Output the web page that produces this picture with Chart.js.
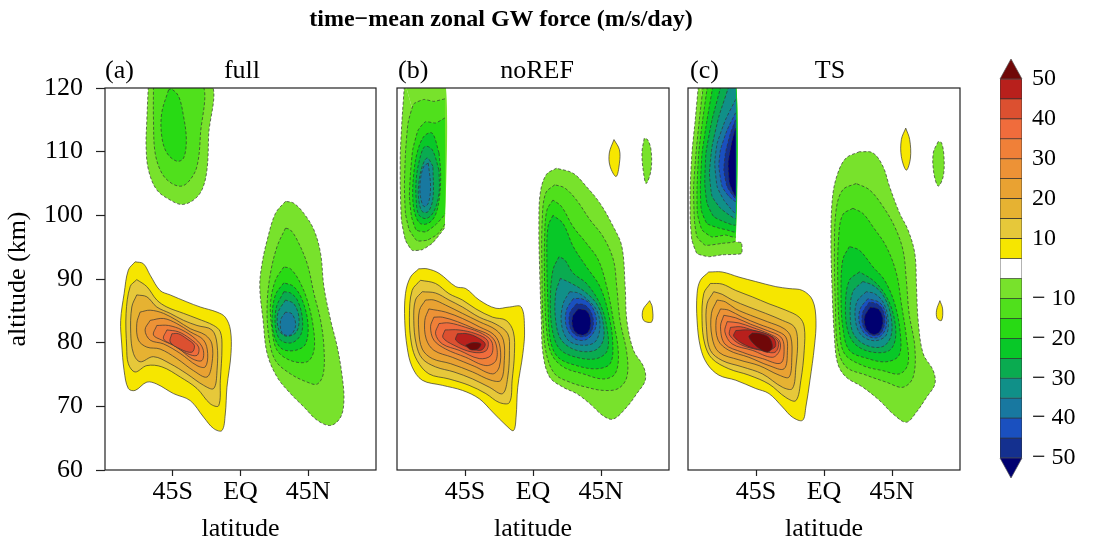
<!DOCTYPE html>
<html>
<head>
<meta charset="utf-8">
<script src="https://cdn.jsdelivr.net/npm/chart.js@4.4.1/dist/chart.umd.min.js"></script>
<style>
  body { margin: 0; background: #fff; }
  #fig { position: relative; width: 1097px; height: 548px; overflow: hidden; font-family: "Liberation Serif", "Times New Roman", serif; }
  #fig canvas { position: absolute; }
  .t { position: absolute; line-height: 1; white-space: nowrap; color: #000; font-size: 26px; }
</style>
</head>
<body>
<div id="fig">
  <canvas id="pa" width="390" height="548" style="left:0;top:0"></canvas>
  <canvas id="pb" width="290" height="548" style="left:390px;top:0"></canvas>
  <canvas id="pc" width="290" height="548" style="left:680px;top:0"></canvas>
  <canvas id="cb" width="107" height="460" style="left:990px;top:40px"></canvas>

  <div class="t" style="left:0;top:6px;width:1002px;text-align:center;font-size:24px;font-weight:bold">time−mean zonal GW force (m/s/day)</div>
  <div class="t" id="tagA" style="left:105px;top:57px"></div>
  <div class="t" id="nameA" style="left:142px;top:57px;width:200px;text-align:center"></div>
  <div class="t" id="tagB" style="left:398px;top:57px"></div>
  <div class="t" id="nameB" style="left:437px;top:57px;width:200px;text-align:center"></div>
  <div class="t" id="tagC" style="left:690px;top:57px"></div>
  <div class="t" id="nameC" style="left:730px;top:57px;width:200px;text-align:center"></div>
</div>

<script>
// axes
const latTicks = [-45, 0, 45];
const latLabels = ['45S', 'EQ', '45N'];
const altTicks = [60, 70, 80, 90, 100, 110, 120];
const panelTags = ['(a)', '(b)', '(c)'];
const panelNames = ['full', 'noREF', 'TS'];
// latitude where the data of the upper-left blob stops (b, c)
const dataEdge = [null, -58.3, -58.5];

// colour scale (box colours bottom -> top, -50..50, white box is -5..5)
const bandColors = ['#14308f', '#1a50bf', '#1878a0', '#109088', '#0aab50', '#08c828', '#28da14', '#50e01c', '#78e22c',
  '#ffffff',
  '#f6e600', '#e6c83a', '#e6b232', '#e9a232', '#ed9236', '#f08038', '#f06c3c', '#dc5030', '#b8201c'];
const lowColor = '#000070';
const highColor = '#700808';
const cbTickPos = [0, 2, 4, 6, 8, 11, 13, 15, 17, 19];
const cbTickLabels = ['− 50', '− 40', '− 30', '− 20', '− 10', '10', '20', '30', '40', '50'];

// contours [level, [[lat, alt], ...]]
const fullContours = [
  [-5, [[-61.1,121],[-62.2,115.0],[-62.7,110.8],[-61.1,107.1],[-55.6,104.0],[-46.7,102.4],[-38.9,101.7],[-31.2,102.4],[-25.6,104.0],[-22.3,107.1],[-21.2,112.4],[-20.5,121]]],
  [-10, [[-57.8,121],[-57.8,115.0],[-56.7,109.8],[-52.2,106.6],[-45.6,105.0],[-38.9,104.6],[-33.4,105.6],[-28.9,107.7],[-26.7,112.4],[-26.3,121]]],
  [-15, [[-47.8,119.7],[-52.3,116.1],[-52.3,112.4],[-48.9,109.8],[-42.3,108.5],[-37.8,109.0],[-36.0,111.9],[-37.8,115.5],[-41.1,118.7],[-45.6,119.8]]],

  [5, [[-70.0,92.7],[-74.5,91.4],[-77.3,87.7],[-79.6,83.5],[-78.9,79.8],[-77.3,75.6],[-74.5,72.8],[-70.0,72.5],[-62.2,73.8],[-55.6,73.5],[-44.5,72.0],[-33.4,70.9],[-24.5,68.3],[-17.8,66.5],[-12.3,66.2],[-10.1,68.8],[-9.0,73.0],[-6.3,78.3],[-6.7,82.0],[-10.1,84.0],[-15.6,84.8],[-26.7,85.6],[-35.6,86.4],[-46.7,87.5],[-53.4,88.2],[-60.0,90.6],[-64.5,92.4]]],
  [10, [[-68.9,89.9],[-73.3,88.8],[-76.0,84.6],[-75.6,79.3],[-74.5,76.7],[-70.0,75.4],[-62.2,76.4],[-52.2,76.2],[-40.0,74.6],[-28.9,72.8],[-20.1,70.4],[-14.5,70.1],[-13.4,74.1],[-12.3,79.3],[-13.4,81.7],[-17.8,82.7],[-28.9,83.8],[-37.8,84.6],[-48.9,85.6],[-55.6,86.7],[-62.2,88.8]]],
  [15, [[-68.9,87.5],[-72.2,85.6],[-72.9,81.4],[-71.1,78.3],[-66.7,77.0],[-57.8,77.8],[-46.7,76.7],[-35.6,75.1],[-24.5,73.3],[-17.8,72.8],[-15.6,75.6],[-15.6,79.8],[-19.0,82.0],[-28.9,82.7],[-37.8,83.5],[-46.7,84.6],[-55.6,85.6],[-62.2,87.2]]],
  [20, [[-66.7,84.8],[-68.9,83.0],[-67.8,80.4],[-62.2,79.3],[-53.4,79.0],[-42.3,77.5],[-31.2,75.6],[-22.3,74.6],[-19.0,76.7],[-19.0,79.8],[-23.4,81.2],[-33.4,82.2],[-42.3,83.5],[-51.1,84.6],[-60.0,85.1]]],
  [25, [[-60.0,83.5],[-63.4,82.0],[-60.0,80.4],[-51.1,79.8],[-40.0,78.3],[-28.9,76.4],[-23.4,76.2],[-21.8,78.3],[-24.5,80.4],[-33.4,81.7],[-42.3,83.0],[-51.1,83.8]]],
  [30, [[-55.6,82.7],[-57.8,81.2],[-52.2,80.4],[-42.3,79.3],[-32.3,77.5],[-25.6,77.2],[-24.9,79.0],[-30.0,80.6],[-38.9,82.0],[-47.8,82.7]]],
  [35, [[-48.9,82.0],[-51.1,80.6],[-44.5,79.6],[-35.6,78.3],[-28.9,78.0],[-27.8,79.3],[-33.4,80.6],[-41.2,81.7]]],
  [40, [[-45.6,81.4],[-46.7,80.1],[-40.0,79.0],[-32.3,78.5],[-30.7,79.6],[-35.6,80.6],[-41.2,81.4]]],

  [-5, [[29.9,102.2],[23.2,100.3],[17.7,96.1],[14.3,92.4],[12.8,88.8],[15.0,83.5],[17.7,78.3],[24.3,74.6],[33.2,72.0],[42.1,69.9],[51.0,67.8],[59.9,67.0],[66.5,68.3],[68.7,70.9],[67.6,74.6],[64.3,79.3],[59.9,83.5],[55.4,88.8],[53.2,94.0],[48.8,97.7],[42.1,100.3],[35.4,101.9]]],
  [-10, [[29.9,98.0],[24.3,95.1],[19.9,90.9],[17.7,86.1],[18.8,80.9],[23.2,77.2],[33.2,75.1],[44.3,73.8],[51.0,73.5],[55.0,75.1],[55.4,79.3],[53.2,83.5],[48.8,87.7],[44.3,92.4],[37.7,96.1],[33.2,97.7]]],
  [-15, [[28.8,91.9],[23.2,89.8],[19.9,86.1],[21.0,82.0],[24.3,78.8],[33.2,77.2],[44.3,77.0],[48.8,78.8],[48.3,82.5],[44.3,86.7],[38.8,89.8],[33.2,91.6]]],
  [-20, [[28.8,89.4],[23.2,87.5],[21.0,84.0],[22.6,80.9],[27.7,79.0],[36.6,78.8],[43.2,79.8],[44.8,83.0],[41.0,86.7],[35.4,88.8]]],
  [-25, [[28.8,88.0],[23.9,85.6],[23.2,82.5],[26.6,80.4],[34.3,80.0],[40.3,81.4],[41.0,84.0],[37.7,86.7],[33.2,87.8]]],
  [-30, [[29.9,86.7],[24.8,84.6],[25.5,82.0],[30.6,81.0],[37.2,81.7],[38.8,84.0],[35.4,86.1]]],
  [-35, [[29.9,84.8],[26.6,83.5],[27.7,81.5],[33.2,81.2],[36.6,82.7],[34.3,84.5]]]
];

const noRefContours = [
  [-5, [[-84.9,121],[-86.7,115.0],[-87.8,109.8],[-87.8,104.5],[-87.1,99.3],[-84.4,96.1],[-80.0,94.5],[-73.3,94.6],[-66.7,95.6],[-61.1,97.2],[-58.3,98.2],[-58.3,121]]],
  [-10, [[-58.3,118.3],[-65.6,117.9],[-72.2,118.2],[-78.9,117.5],[-82.7,114.5],[-84.4,109.8],[-85.1,104.5],[-84.4,100.3],[-81.8,97.7],[-76.7,96.0],[-70.0,96.1],[-63.4,97.0],[-58.3,98.7]]],
  [-15, [[-58.3,115.3],[-64.5,114.5],[-71.1,114.7],[-76.0,113.4],[-79.6,110.3],[-81.1,106.6],[-81.8,103.0],[-80.4,99.8],[-77.3,97.7],[-71.1,97.4],[-64.5,98.5],[-58.3,100.3]]],
  [-20, [[-62.2,109.8],[-66.7,112.9],[-72.2,112.4],[-76.7,109.8],[-78.9,106.6],[-79.6,103.0],[-78.2,100.3],[-74.5,98.7],[-68.9,98.8],[-64.5,100.1],[-61.8,103.0],[-61.1,106.6]]],
  [-25, [[-62.2,107.1],[-66.7,110.3],[-71.6,110.8],[-75.1,108.7],[-77.3,105.6],[-77.3,102.4],[-75.6,100.1],[-70.7,99.5],[-65.6,100.6],[-62.2,103.5]]],
  [-30, [[-66.2,107.7],[-70.0,109.0],[-73.3,107.7],[-75.6,105.0],[-75.6,102.4],[-73.3,100.6],[-69.3,100.6],[-66.2,102.7]]],
  [-35, [[-69.3,108.2],[-72.2,107.7],[-74.5,105.6],[-74.5,103.0],[-72.2,101.4],[-69.3,101.9],[-67.8,104.5]]],

  [5, [[-75.6,91.6],[-81.1,90.3],[-84.4,87.7],[-84.9,83.5],[-83.3,79.3],[-80.0,76.2],[-73.3,74.1],[-60.0,73.3],[-46.7,72.5],[-35.6,71.2],[-26.7,69.1],[-17.8,67.0],[-12.9,66.2],[-11.2,68.3],[-10.1,73.0],[-6.7,78.3],[-5.6,82.0],[-7.8,85.6],[-15.6,85.6],[-24.5,85.4],[-35.6,86.7],[-44.5,88.5],[-51.1,88.8],[-62.2,90.9],[-70.0,91.6]]],
  [10, [[-74.5,89.8],[-80.0,88.2],[-81.8,84.0],[-80.4,79.8],[-76.7,77.2],[-68.9,75.1],[-55.6,74.3],[-42.3,73.3],[-31.2,72.0],[-22.3,70.6],[-15.6,70.6],[-13.8,74.1],[-12.3,78.3],[-13.0,81.7],[-17.8,83.5],[-26.7,84.0],[-37.8,85.3],[-46.7,86.7],[-55.6,87.7],[-64.5,89.3]]],
  [15, [[-73.3,88.0],[-77.8,86.7],[-78.9,83.5],[-77.3,79.8],[-73.3,77.5],[-64.5,76.2],[-52.3,75.4],[-40.0,74.3],[-28.9,73.0],[-20.1,72.0],[-16.7,74.6],[-15.6,78.8],[-16.7,81.4],[-24.5,82.9],[-35.6,84.0],[-46.7,85.6],[-55.6,86.7],[-64.5,87.8]]],
  [20, [[-71.1,86.7],[-75.1,85.1],[-75.6,82.0],[-73.3,79.0],[-66.7,77.5],[-54.5,76.7],[-40.0,75.4],[-27.8,74.1],[-21.2,74.1],[-19.0,77.2],[-19.6,80.4],[-24.5,82.0],[-35.6,83.3],[-46.7,84.6],[-57.8,85.9],[-65.6,86.7]]],
  [25, [[-68.9,85.3],[-71.6,83.5],[-70.7,80.6],[-65.6,78.8],[-53.4,77.7],[-38.9,76.3],[-26.7,75.1],[-22.3,76.2],[-21.8,79.3],[-25.6,81.2],[-35.6,82.5],[-46.7,83.8],[-57.8,84.8]]],
  [30, [[-65.6,84.0],[-67.8,82.5],[-65.6,80.4],[-57.8,79.0],[-44.5,77.7],[-31.2,76.4],[-24.5,77.2],[-24.5,79.8],[-28.9,81.2],[-38.9,82.2],[-50.0,83.3],[-60.0,84.0]]],
  [35, [[-62.2,83.0],[-64.5,81.4],[-60.0,79.8],[-48.9,78.8],[-35.6,77.5],[-27.8,78.0],[-27.2,80.1],[-33.4,81.4],[-44.5,82.4],[-55.6,83.1]]],
  [40, [[-58.2,82.0],[-59.6,80.8],[-52.3,79.6],[-40.0,78.5],[-31.2,78.7],[-30.0,80.3],[-37.8,81.4],[-48.9,82.0]]],
  [45, [[-50.0,81.4],[-51.1,80.4],[-43.4,79.3],[-34.5,78.8],[-31.6,79.8],[-36.7,80.8],[-43.4,81.4]]],
  [50, [[-44.5,79.6],[-40.0,80.0],[-34.5,79.8],[-36.7,79.0],[-41.2,78.9]]],

  [-5, [[15.5,107.4],[8.8,106.4],[4.8,103.5],[3.9,98.2],[4.4,91.4],[5.5,83.5],[6.6,78.3],[11.0,74.6],[19.9,73.0],[28.8,72.0],[37.7,70.4],[46.5,68.5],[53.2,68.0],[62.1,69.9],[68.7,72.0],[74.3,74.1],[73.2,76.2],[66.5,78.8],[62.1,83.5],[61.0,88.8],[58.8,95.1],[53.2,98.2],[44.3,101.9],[35.4,104.5],[26.6,106.6]]],
  [-10, [[14.4,104.8],[8.4,103.5],[6.1,99.3],[5.9,91.4],[6.6,83.5],[8.8,78.3],[14.4,75.1],[24.3,73.8],[35.4,73.0],[46.5,72.5],[56.5,72.8],[62.1,74.6],[62.1,78.3],[57.6,83.5],[55.4,88.8],[53.2,93.0],[46.5,96.6],[37.7,99.3],[28.8,102.4],[21.0,104.3]]],
  [-15, [[13.2,102.4],[9.2,100.8],[7.7,96.6],[7.7,88.8],[8.8,82.5],[12.1,78.3],[19.9,76.2],[33.2,75.1],[46.5,74.3],[54.3,75.1],[56.5,78.3],[53.2,83.5],[48.8,88.8],[43.2,93.0],[35.4,95.6],[26.6,98.2],[18.8,101.4]]],
  [-20, [[13.2,100.0],[9.9,98.2],[9.2,93.0],[9.9,86.1],[11.5,80.4],[16.6,77.7],[28.8,76.4],[42.1,75.9],[51.0,76.7],[52.8,79.8],[49.9,84.6],[44.3,88.8],[35.4,91.9],[26.6,95.1],[19.9,98.7]]],
  [-25, [[17.2,93.5],[13.2,91.4],[11.5,86.7],[12.8,82.0],[17.7,79.0],[28.8,77.7],[42.1,77.5],[49.2,78.8],[48.8,82.5],[44.3,86.1],[35.4,89.3],[26.6,90.9],[21.0,93.0]]],
  [-30, [[18.1,90.1],[15.0,87.7],[15.0,83.5],[18.8,80.4],[28.8,78.8],[41.0,78.8],[46.5,80.4],[46.1,83.5],[42.1,86.1],[34.3,88.0],[25.5,89.3]]],
  [-35, [[24.3,88.0],[19.9,86.1],[18.8,83.0],[23.2,80.4],[32.1,79.6],[41.0,80.1],[44.3,82.5],[42.1,85.1],[35.4,86.9],[29.9,87.8]]],
  [-40, [[26.6,86.9],[22.1,85.1],[22.1,82.5],[27.7,80.6],[35.4,80.5],[41.0,82.0],[41.7,84.0],[37.7,86.1],[32.1,86.9]]],
  [-45, [[28.8,86.1],[24.3,84.6],[24.8,82.2],[29.9,81.0],[36.6,81.2],[39.9,82.7],[38.8,84.6],[34.3,85.9]]],
  [-50, [[29.9,85.3],[26.1,84.0],[27.0,82.0],[32.1,81.2],[36.6,81.7],[38.1,83.5],[35.4,85.0]]],

  [5, [[53.6,111.9],[50.5,109.8],[51.0,107.7],[55.0,106.1],[57.2,108.2],[57.2,110.3]]],
  [-5, [[73.6,112.1],[72.1,109.8],[73.2,106.6],[74.9,105.0],[78.1,107.1],[78.1,110.3],[75.8,111.9]]],
  [5, [[77.2,86.6],[72.7,85.1],[73.2,83.5],[78.7,83.3],[78.9,85.6]]]
];

const tsContours = [
  [-5, [[-82.9,121],[-85.2,115.0],[-87.4,109.8],[-88.5,104.5],[-88.5,99.3],[-87.4,96.1],[-84.0,94.0],[-76.3,93.5],[-67.4,93.8],[-54.6,94.0],[-54.6,95.7],[-58.5,95.9],[-58.5,121]]],
  [-10, [[-79.6,121],[-82.5,115.0],[-84.7,109.8],[-86.3,104.5],[-85.8,99.3],[-84.0,96.6],[-78.5,95.3],[-67.4,95.6],[-58.5,96.0],[-58.5,121]]],
  [-15, [[-76.7,121],[-80.3,115.0],[-82.9,109.8],[-84.0,104.5],[-83.8,100.3],[-80.7,97.7],[-74.1,96.6],[-65.2,96.9],[-58.5,96.6],[-58.5,121]]],
  [-20, [[-73.0,121],[-77.4,115.0],[-80.7,109.8],[-81.8,104.5],[-81.2,100.8],[-77.4,98.7],[-69.6,98.0],[-64.1,97.7],[-58.5,97.4],[-58.5,121]]],
  [-25, [[-67.4,121],[-74.1,115.0],[-78.1,109.8],[-78.9,105.0],[-77.4,101.9],[-73.0,99.8],[-66.3,99.0],[-58.5,98.5],[-58.5,121]]],
  [-30, [[-61.9,121],[-69.6,115.5],[-74.1,110.8],[-75.8,106.6],[-74.1,103.0],[-68.5,101.1],[-63.0,100.1],[-58.5,99.5],[-58.5,121]]],
  [-35, [[-58.5,118.2],[-65.2,115.0],[-70.7,111.3],[-72.3,108.2],[-70.7,104.5],[-66.3,102.4],[-61.9,101.1],[-58.5,100.3]]],
  [-40, [[-58.5,116.1],[-64.1,113.4],[-68.5,110.3],[-69.6,107.7],[-67.4,104.5],[-63.0,103.0],[-58.5,102.2]]],
  [-45, [[-58.5,115.0],[-61.9,112.9],[-65.2,109.8],[-66.3,107.1],[-64.1,104.5],[-58.5,102.7]]],
  [-50, [[-58.5,113.7],[-61.2,111.3],[-63.4,108.2],[-62.5,105.0],[-58.5,103.0]]],

  [5, [[-76.3,91.1],[-81.8,89.8],[-84.0,87.7],[-84.0,83.5],[-81.8,79.3],[-77.4,76.7],[-69.6,74.9],[-58.4,74.1],[-45.2,72.8],[-36.4,72.0],[-27.5,69.9],[-20.9,68.3],[-14.2,67.8],[-12.0,69.9],[-9.3,74.1],[-6.4,79.3],[-5.3,83.5],[-7.6,86.7],[-14.2,88.2],[-23.1,88.5],[-31.9,88.8],[-45.2,89.6],[-56.3,90.3],[-67.4,91.1]]],
  [10, [[-75.2,89.3],[-79.6,87.7],[-80.7,83.5],[-78.9,79.8],[-74.1,77.5],[-63.0,75.9],[-49.7,74.9],[-36.4,73.5],[-25.3,71.4],[-18.6,70.9],[-15.3,74.1],[-13.1,78.8],[-13.1,82.5],[-16.4,84.0],[-25.3,85.1],[-36.4,86.1],[-47.5,87.2],[-58.4,88.2],[-67.4,89.2]]],
  [15, [[-73.0,88.0],[-77.4,86.1],[-77.8,82.5],[-75.2,78.8],[-67.4,77.2],[-54.1,76.2],[-40.8,75.1],[-27.5,73.0],[-20.9,72.8],[-18.6,76.2],[-17.5,80.4],[-19.7,82.5],[-27.5,83.5],[-38.6,84.6],[-49.7,85.6],[-60.8,86.7],[-67.4,87.6]]],
  [20, [[-70.7,86.7],[-74.5,84.6],[-74.1,80.9],[-69.6,78.5],[-56.3,77.3],[-43.0,76.4],[-29.7,74.9],[-23.1,74.6],[-21.3,77.7],[-22.0,80.9],[-26.4,82.2],[-37.5,83.3],[-48.6,84.3],[-58.4,85.3],[-65.2,86.4]]],
  [25, [[-68.5,85.3],[-71.4,83.5],[-70.1,80.4],[-63.0,78.8],[-49.7,77.7],[-36.4,76.4],[-26.4,75.9],[-24.2,78.8],[-25.3,80.9],[-31.9,81.9],[-43.0,82.9],[-54.1,84.0],[-63.0,85.1]]],
  [30, [[-66.3,84.3],[-68.5,82.5],[-65.6,79.8],[-54.1,78.5],[-40.8,77.5],[-28.6,76.8],[-26.4,79.3],[-28.6,80.9],[-37.5,81.9],[-48.6,82.9],[-58.4,83.9]]],
  [35, [[-64.1,83.3],[-65.6,81.7],[-60.8,79.8],[-47.5,78.8],[-34.2,77.7],[-29.3,78.8],[-29.7,80.4],[-36.4,81.4],[-47.5,82.4],[-56.3,83.1]]],
  [40, [[-61.9,82.4],[-62.5,81.2],[-55.2,79.7],[-41.9,78.8],[-32.4,78.5],[-30.2,80.1],[-36.4,81.2],[-47.5,82.0],[-55.2,82.5]]],
  [45, [[-58.4,81.9],[-59.7,81.0],[-51.9,79.6],[-39.7,78.8],[-32.4,79.3],[-33.0,80.6],[-39.7,81.5],[-49.7,82.0]]],
  [50, [[-47.5,81.5],[-49.7,80.9],[-44.1,79.3],[-37.5,78.5],[-34.2,79.3],[-36.4,80.8],[-41.9,81.4]]],

  [-5, [[23.5,110.0],[14.6,109.0],[9.1,106.6],[5.7,103.0],[4.6,96.6],[5.3,88.8],[6.9,80.9],[9.1,76.7],[14.6,74.6],[25.7,73.0],[36.8,70.9],[45.7,68.8],[54.5,67.5],[61.2,69.1],[67.8,71.4],[73.4,73.5],[72.3,75.6],[65.6,78.3],[62.3,83.5],[61.2,88.8],[60.1,94.0],[55.6,97.7],[50.1,100.3],[43.4,104.5],[39.0,107.7],[32.4,109.8]]],
  [-10, [[21.3,105.0],[12.4,104.0],[8.0,100.8],[6.9,94.0],[7.5,86.1],[9.1,79.3],[14.6,76.2],[27.9,74.9],[41.2,73.8],[52.3,73.0],[59.0,74.6],[60.1,79.3],[56.3,84.6],[54.5,89.8],[52.3,94.5],[46.8,98.2],[39.0,101.4],[30.1,104.0]]],
  [-15, [[19.1,101.1],[12.4,100.1],[9.7,96.6],[9.1,89.8],[10.2,82.5],[13.5,78.3],[25.7,76.4],[39.0,75.6],[50.1,75.1],[55.6,76.7],[54.5,80.9],[51.2,86.1],[47.9,90.9],[41.2,95.1],[32.4,98.2],[25.7,100.3]]],
  [-20, [[16.8,95.1],[12.4,93.0],[11.3,87.7],[12.4,82.5],[16.8,78.8],[29.0,77.5],[41.2,77.0],[49.6,78.0],[50.5,81.4],[46.8,86.1],[40.1,89.8],[32.4,91.9],[23.5,94.5]]],
  [-25, [[23.5,91.1],[16.8,89.8],[14.2,86.1],[15.7,81.9],[21.3,79.6],[32.4,78.5],[43.4,78.8],[47.4,80.9],[45.7,84.6],[40.1,87.7],[32.4,89.8]]],
  [-30, [[25.7,89.6],[19.1,88.0],[17.3,84.6],[19.5,81.4],[27.9,79.6],[39.0,79.4],[44.5,81.2],[43.9,84.6],[39.0,87.5],[32.4,89.0]]],
  [-35, [[27.9,88.0],[21.7,86.4],[20.8,83.5],[24.6,81.2],[33.5,80.3],[41.2,81.2],[42.3,84.0],[39.0,86.4],[33.5,87.7]]],
  [-40, [[29.0,86.9],[23.9,85.3],[23.5,83.0],[27.9,81.2],[35.7,80.8],[40.8,82.2],[40.8,84.6],[36.8,86.3]]],
  [-45, [[30.1,86.4],[25.7,84.8],[25.7,82.7],[30.1,81.3],[36.8,81.3],[40.1,83.0],[39.0,85.1],[35.0,86.1]]],
  [-50, [[30.6,85.6],[26.8,84.0],[27.9,82.2],[32.4,81.3],[36.8,81.7],[39.0,83.5],[36.3,85.2]]],

  [5, [[54.1,113.7],[51.2,111.9],[51.2,109.2],[54.5,107.1],[57.2,109.0],[56.7,111.9]]],
  [-5, [[75.6,111.6],[72.3,109.8],[72.7,106.6],[75.6,104.6],[78.9,106.1],[79.4,109.2],[77.8,111.4]]],
  [5, [[76.7,86.6],[74.5,85.1],[74.9,83.8],[77.8,83.5],[78.5,85.3]]]
];

Chart.defaults.font.family = '"Liberation Serif", "Times New Roman", serif';
Chart.defaults.color = '#000';

// colour of the area enclosed by a contour
function levelColor(lev) {
  if (lev >= 50) return highColor;
  if (lev <= -50) return lowColor;
  if (lev > 0) return bandColors[lev / 5 + 9];
  return bandColors[(lev + 50) / 5 - 1];
}

function makeDatasets(contours, edge) {
  return contours.map(([lev, pts]) => {
    const ring = pts.concat([pts[0]]).map(p => ({ x: p[0], y: p[1] }));
    // contours cut by the data edge keep straighter sides
    const cut = edge !== null && pts.some(p => p[0] === edge);
    // no contour line along the top of the plot or along the data edge
    const hidden = c => {
      const a = ring[c.p0DataIndex], b = ring[c.p1DataIndex];
      if (a.y > 120.5 && b.y > 120.5) return true;
      return edge !== null && a.x === edge && b.x === edge;
    };
    return {
      data: ring,
      showLine: true,
      fill: 'shape',
      tension: cut ? 0.15 : 0.35,
      backgroundColor: levelColor(lev),
      borderColor: '#333',
      borderWidth: 0.7,
      borderDash: lev < 0 ? [3, 2] : [],
      pointRadius: 0,
      pointHoverRadius: 0,
      pointHitRadius: 0,
      order: 60 - Math.abs(lev),
      segment: { borderColor: c => (hidden(c) ? 'rgba(0,0,0,0)' : undefined) }
    };
  });
}

const frame = {
  id: 'frame',
  afterDatasetsDraw(chart) {
    const { ctx, chartArea: a } = chart;
    ctx.save();
    ctx.strokeStyle = '#222';
    ctx.lineWidth = 1.2;
    ctx.strokeRect(a.left, a.top, a.right - a.left, a.bottom - a.top);
    ctx.restore();
  }
};

const pads = [
  { left: 0, top: 88, right: 14, bottom: 0 },
  { left: 7, top: 88, right: 11, bottom: 0 },
  { left: 8, top: 88, right: 10, bottom: 0 }
];

function drawPanel(id, i, contours) {
  const withY = i === 0;
  new Chart(document.getElementById(id), {
    type: 'scatter',
    data: { datasets: makeDatasets(contours, dataEdge[i]) },
    options: {
      responsive: false,
      animation: false,
      events: [],
      layout: { padding: pads[i] },
      plugins: { legend: { display: false }, tooltip: { enabled: false } },
      scales: {
        x: {
          type: 'linear', min: -90, max: 90,
          afterBuildTicks: s => { s.ticks = latTicks.map(v => ({ value: v })); },
          afterFit: s => { s.height = 78; },
          ticks: { callback: v => latLabels[latTicks.indexOf(v)], font: { size: 26 }, padding: 1, maxRotation: 0, autoSkip: false },
          grid: { drawOnChartArea: false, tickLength: 6, tickColor: '#222', tickWidth: 1.2 },
          border: { display: false },
          title: { display: true, text: 'latitude', font: { size: 26 }, padding: { top: 0, bottom: 3 } }
        },
        y: {
          type: 'linear', min: 60, max: 120, display: withY,
          afterBuildTicks: s => { s.ticks = altTicks.map(v => ({ value: v })); },
          afterFit: s => { s.width = withY ? 105 : 0; },
          ticks: { font: { size: 26 }, padding: 13 },
          grid: { drawOnChartArea: false, tickLength: 9, tickColor: '#222', tickWidth: 1.2 },
          border: { display: false },
          title: { display: true, text: 'altitude (km)', font: { size: 26 }, padding: { top: 3, bottom: 0 } }
        }
      }
    },
    plugins: [frame]
  });
}

drawPanel('pa', 0, fullContours);
drawPanel('pb', 1, noRefContours);
drawPanel('pc', 2, tsContours);

['A', 'B', 'C'].forEach((k, i) => {
  document.getElementById('tag' + k).textContent = panelTags[i];
  document.getElementById('name' + k).textContent = panelNames[i];
});

// colour bar: one stacked bar, end triangles for <-50 and >50
const arrows = {
  id: 'arrows',
  afterDatasetsDraw(chart) {
    const { ctx, chartArea: a, scales: { y } } = chart;
    const h = 20;
    const tri = (base, tip, color) => {
      ctx.beginPath();
      ctx.moveTo(a.left, base);
      ctx.lineTo(a.right, base);
      ctx.lineTo((a.left + a.right) / 2, tip);
      ctx.closePath();
      ctx.fillStyle = color;
      ctx.fill();
      ctx.strokeStyle = '#555';
      ctx.lineWidth = 0.7;
      ctx.stroke();
    };
    ctx.save();
    const top = y.getPixelForValue(bandColors.length);
    const bot = y.getPixelForValue(0);
    tri(top, top - h, highColor);
    tri(bot, bot + h, lowColor);
    ctx.restore();
  }
};

new Chart(document.getElementById('cb'), {
  type: 'bar',
  data: {
    labels: [''],
    datasets: bandColors.map(c => ({
      data: [1], backgroundColor: c, borderColor: '#333', borderWidth: 0.7, borderSkipped: false,
      barPercentage: 1, categoryPercentage: 1
    }))
  },
  options: {
    responsive: false,
    animation: false,
    events: [],
    layout: { padding: { left: 10, top: 39, right: 0, bottom: 42 } },
    plugins: { legend: { display: false }, tooltip: { enabled: false } },
    scales: {
      x: { display: false, stacked: true },
      y: {
        stacked: true, position: 'right', min: 0, max: bandColors.length,
        afterBuildTicks: s => { s.ticks = cbTickPos.map(v => ({ value: v })); },
        afterFit: s => { s.width = 75; },
        ticks: { callback: v => cbTickLabels[cbTickPos.indexOf(v)], font: { size: 24 }, padding: 10 },
        grid: { display: false, drawTicks: false },
        border: { display: false }
      }
    }
  },
  plugins: [arrows]
});
</script>
</body>
</html>
